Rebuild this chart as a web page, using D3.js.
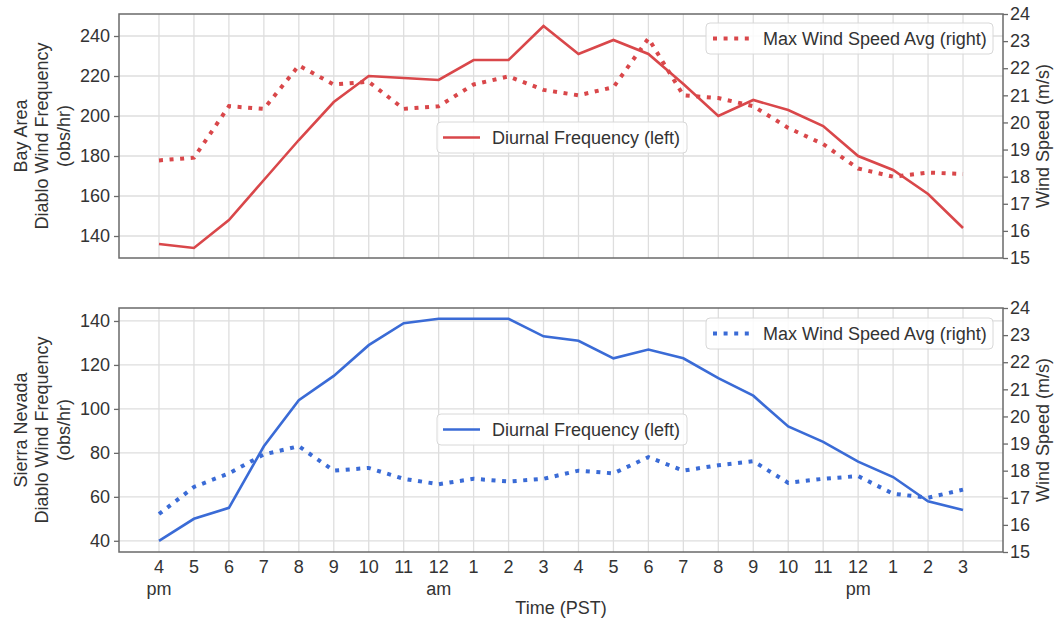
<!DOCTYPE html>
<html>
<head>
<meta charset="utf-8">
<script src="https://cdn.jsdelivr.net/npm/d3@7"></script>
<style>
  body { margin: 0; background: #fff; }
  svg { font-family: "Liberation Sans", Arial, sans-serif; }
  .tick text { fill: #333; }
</style>
</head>
<body>
<svg id="chart" width="1056" height="623"></svg>
<script>

/*************************** Data ***************************/

var hours = [4,5,6,7,8,9,10,11,12,1,2,3,4,5,6,7,8,9,10,11,12,1,2,3];
var hourNotes = ["pm","","","","","","","","am","","","","","","","","","","","","pm","","",""];

var bayFreq = [136,134,148,168,188,207,220,219,218,228,228,245,231,238,231,216,200,208,203,195,180,173,161,144];
var bayWind = [18.6,18.7,20.6,20.5,22.1,21.4,21.5,20.5,20.6,21.4,21.7,21.2,21.0,21.3,23.1,21.0,20.9,20.6,19.8,19.2,18.3,18.0,18.15,18.1];

var sierraFreq = [40,50,55,83,104,115,129,139,141,141,141,133,131,123,127,123,114,106,92,85,76,69,58,54];
var sierraWind = [16.4,17.4,17.9,18.6,18.9,18.0,18.1,17.7,17.5,17.7,17.6,17.7,18.0,17.9,18.5,18.0,18.2,18.35,17.55,17.7,17.8,17.15,17.0,17.3];

var leftTicksTop = [140,160,180,200,220,240];
var leftTicksBottom = [40,60,80,100,120,140];
var rightTicks = [15,16,17,18,19,20,21,22,23,24];

/*************************** Setup ***************************/

var svg = d3.select("#chart");
var textColor = "#333";
var gridColor = "#dedede";
var frameColor = "#6a6a6a";
var fontSize = "18px";

var x = d3.scaleLinear().domain([-1.144, 24.144]).range([119, 1003]);

function drawPanel(opts){
  var top = opts.top, bottom = opts.bottom;
  var g = svg.append("g");

  var yL = d3.scaleLinear().domain(opts.leftDomain).range([bottom, top]);
  var yR = d3.scaleLinear().domain([15, 24]).range([bottom, top]);

  // grid
  g.append("g").selectAll("line").data(hours.map(function(d,i){ return i; })).enter().append("line")
    .attr("x1", function(i){ return x(i); }).attr("x2", function(i){ return x(i); })
    .attr("y1", top).attr("y2", bottom)
    .style("stroke", gridColor).style("stroke-width", 1.3);
  g.append("g").selectAll("line").data(opts.leftTicks).enter().append("line")
    .attr("x1", 119).attr("x2", 1003)
    .attr("y1", function(d){ return yL(d); }).attr("y2", function(d){ return yL(d); })
    .style("stroke", gridColor).style("stroke-width", 1.3);

  // lines
  var lineL = d3.line().x(function(d,i){ return x(i); }).y(function(d){ return yL(d); });
  var lineR = d3.line().x(function(d,i){ return x(i); }).y(function(d){ return yR(d); });

  g.append("path").datum(opts.wind).attr("d", lineR)
    .style("fill", "none").style("stroke", opts.color).style("stroke-width", 4)
    .style("stroke-dasharray", "4,6.6");
  g.append("path").datum(opts.freq).attr("d", lineL)
    .style("fill", "none").style("stroke", opts.color).style("stroke-width", 2.6);

  // frame
  g.append("rect").attr("x", 119).attr("y", top).attr("width", 884).attr("height", bottom - top)
    .style("fill", "none").style("stroke", frameColor).style("stroke-width", 1.5);

  // axes
  var axL = g.append("g").attr("transform", "translate(119,0)")
    .call(d3.axisLeft(yL).tickValues(opts.leftTicks).tickSize(5).tickPadding(4));
  var axR = g.append("g").attr("transform", "translate(1003,0)")
    .call(d3.axisRight(yR).tickValues(rightTicks).tickSize(5).tickPadding(2));
  [axL, axR].forEach(function(a){
    a.select(".domain").remove();
    a.selectAll(".tick line").style("stroke", frameColor).style("stroke-width", 1.3);
    a.selectAll(".tick text").style("font-size", fontSize).style("font-family", "Liberation Sans, Arial, sans-serif");
  });

  // axis titles
  var cy = (top + bottom) / 2;
  var lt = g.append("text").attr("transform", "translate(42," + cy + ") rotate(-90)")
    .attr("text-anchor", "middle").style("font-size", fontSize).style("fill", textColor);
  opts.leftLabel.forEach(function(s, i){
    lt.append("tspan").attr("x", 0).attr("dy", i == 0 ? "-0.85em" : "1.2em").text(s);
  });
  g.append("text").attr("transform", "translate(1043," + cy + ") rotate(-90)")
    .attr("text-anchor", "middle").attr("dy", "0.35em")
    .style("font-size", fontSize).style("fill", textColor).text("Wind Speed (m/s)");

  // legend: diurnal frequency (left)
  var l1 = g.append("g").attr("transform", "translate(437," + opts.leg1y + ")");
  l1.append("rect").attr("width", 250).attr("height", 31).attr("rx", 4)
    .style("fill", "#fff").style("fill-opacity", 0.85).style("stroke", "#d8d8d8");
  l1.append("line").attr("x1", 6).attr("x2", 43).attr("y1", 15.5).attr("y2", 15.5)
    .style("stroke", opts.color).style("stroke-width", 2.6);
  l1.append("text").attr("x", 55).attr("y", 15.5).attr("dy", "0.35em")
    .style("font-size", fontSize).style("fill", textColor).text("Diurnal Frequency (left)");

  // legend: max wind speed (right)
  var l2 = g.append("g").attr("transform", "translate(706," + opts.leg2y + ")");
  l2.append("rect").attr("width", 287).attr("height", 31).attr("rx", 4)
    .style("fill", "#fff").style("fill-opacity", 0.85).style("stroke", "#d8d8d8");
  l2.append("line").attr("x1", 7).attr("x2", 44).attr("y1", 15.5).attr("y2", 15.5)
    .style("stroke", opts.color).style("stroke-width", 4).style("stroke-dasharray", "4,6.6");
  l2.append("text").attr("x", 57).attr("y", 15.5).attr("dy", "0.35em")
    .style("font-size", fontSize).style("fill", textColor).text("Max Wind Speed Avg (right)");
}

/*************************** Panels ***************************/

drawPanel({
  top: 14, bottom: 258, leftDomain: [129, 251], leftTicks: leftTicksTop,
  freq: bayFreq, wind: bayWind, color: "#d9474a",
  leftLabel: ["Bay Area", "Diablo Wind Frequency", "(obs/hr)"],
  leg1y: 122, leg2y: 23
});

drawPanel({
  top: 308, bottom: 552, leftDomain: [34.9, 145.9], leftTicks: leftTicksBottom,
  freq: sierraFreq, wind: sierraWind, color: "#3a6bd6",
  leftLabel: ["Sierra Nevada", "Diablo Wind Frequency", "(obs/hr)"],
  leg1y: 414, leg2y: 318
});

/*************************** X axis labels ***************************/

var xl = svg.append("g");
xl.selectAll("text.hr").data(hours).enter().append("text").attr("class", "hr")
  .attr("x", function(d,i){ return x(i); }).attr("y", 567).attr("dy", "0.35em")
  .attr("text-anchor", "middle").style("font-size", fontSize).style("fill", textColor)
  .text(function(d){ return d; });
xl.selectAll("text.note").data(hourNotes).enter().append("text").attr("class", "note")
  .attr("x", function(d,i){ return x(i); }).attr("y", 589).attr("dy", "0.35em")
  .attr("text-anchor", "middle").style("font-size", fontSize).style("fill", textColor)
  .text(function(d){ return d; });
xl.append("text").attr("x", 561).attr("y", 608).attr("dy", "0.35em")
  .attr("text-anchor", "middle").style("font-size", fontSize).style("fill", textColor)
  .text("Time (PST)");

</script>
</body>
</html>
